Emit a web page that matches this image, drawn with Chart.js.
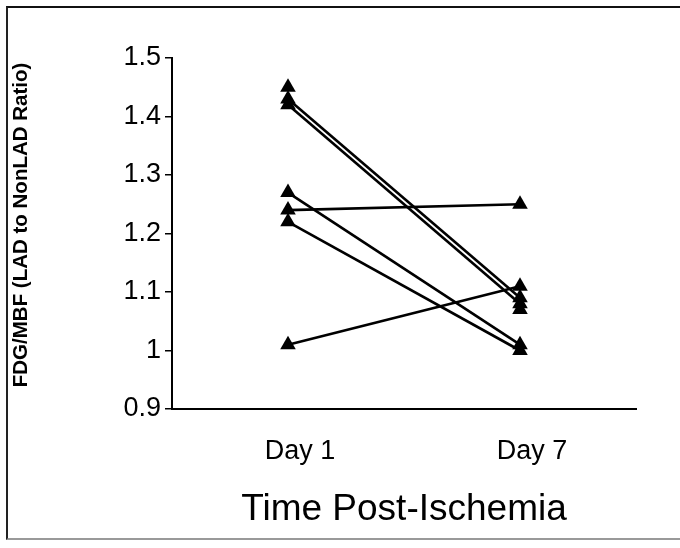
<!DOCTYPE html>
<html>
<head>
<meta charset="utf-8">
<script src="https://cdn.jsdelivr.net/npm/chart.js@4"></script>
<style>
  html, body { margin: 0; padding: 0; background: #fff; }
  #wrap { position: relative; width: 680px; height: 548px; }
  #frame {
    position: absolute; left: 6px; top: 6px; width: 674px; height: 534px;
    border-top: 2px solid #111; border-left: 2px solid #222; border-bottom: 2px solid #999;
    border-right: none; box-sizing: border-box;
  }
  canvas { position: absolute; left: 0; top: 0; }
</style>
</head>
<body>
<div id="wrap">
  <div id="frame"></div>
  <canvas id="c" width="680" height="548"></canvas>
</div>
<script>
// Time points and tick labels
const days = ['Day 1', 'Day 7'];
const yTicks = [0.9, 1.0, 1.1, 1.2, 1.3, 1.4, 1.5];

// FDG/MBF ratio per animal (Day 1, Day 7)
const animalA = [1.43, 1.09];
const animalB = [1.42, 1.08];
const animalC = [1.27, 1.01];
const animalD = [1.24, 1.25];
const animalE = [1.22, 1.00];
const animalF = [1.01, 1.11];
// points with no connecting line
const unpaired = [1.45, 1.07];

const FONT = "'Liberation Sans', Arial, Helvetica, sans-serif";
Chart.defaults.font.family = FONT;
Chart.defaults.color = '#000';

function pairSet(values) {
    return {
        data: values,
        borderColor: '#000',
        borderWidth: 2.6,
        backgroundColor: '#000',
        pointStyle: 'triangle',
        pointRadius: 9,
        pointBorderWidth: 0,
        tension: 0,
    };
}

const datasets = [animalA, animalB, animalC, animalD, animalE, animalF].map(pairSet);
datasets.push(Object.assign(pairSet(unpaired), { showLine: false }));

new Chart(document.getElementById('c'), {
    type: 'line',
    data: { labels: days, datasets },
    options: {
        responsive: false,
        animation: false,
        events: [],
        layout: { padding: { left: 8, right: 44, top: 58, bottom: 10 } },
        plugins: { legend: { display: false }, tooltip: { enabled: false } },
        scales: {
            x: {
                type: 'category',
                offset: true,
                grid: { display: false, drawTicks: false },
                border: { display: true, color: '#000', width: 2 },
                ticks: {
                    padding: 26,
                    labelOffset: 12,
                    font: { size: 27 },
                    color: '#000',
                },
                title: {
                    display: true,
                    text: 'Time Post-Ischemia',
                    font: { size: 37 },
                    color: '#000',
                    padding: { top: 0, bottom: 6 },
                },
                afterFit: (s) => { s.height = 129; },
            },
            y: {
                min: 0.9,
                max: 1.5,
                afterBuildTicks: (s) => { s.ticks = yTicks.map(v => ({ value: v })); },
                grid: { drawOnChartArea: false, drawTicks: true, tickLength: 7, color: '#000', lineWidth: 1.5 },
                border: { display: true, color: '#000', width: 2 },
                ticks: {
                    padding: 4,
                    font: { size: 27 },
                    color: '#000',
                    callback: (v) => String(+Number(v).toFixed(1)),
                },
                title: {
                    display: true,
                    // leading spaces nudge the centred title upward
                    text: '   FDG/MBF (LAD to NonLAD Ratio)',
                    font: { size: 20.5, weight: 'bold' },
                    color: '#000',
                    padding: { top: 1, bottom: 0 },
                },
                afterFit: (s) => { s.width = 164; },
            },
        },
    },
});
</script>
</body>
</html>
